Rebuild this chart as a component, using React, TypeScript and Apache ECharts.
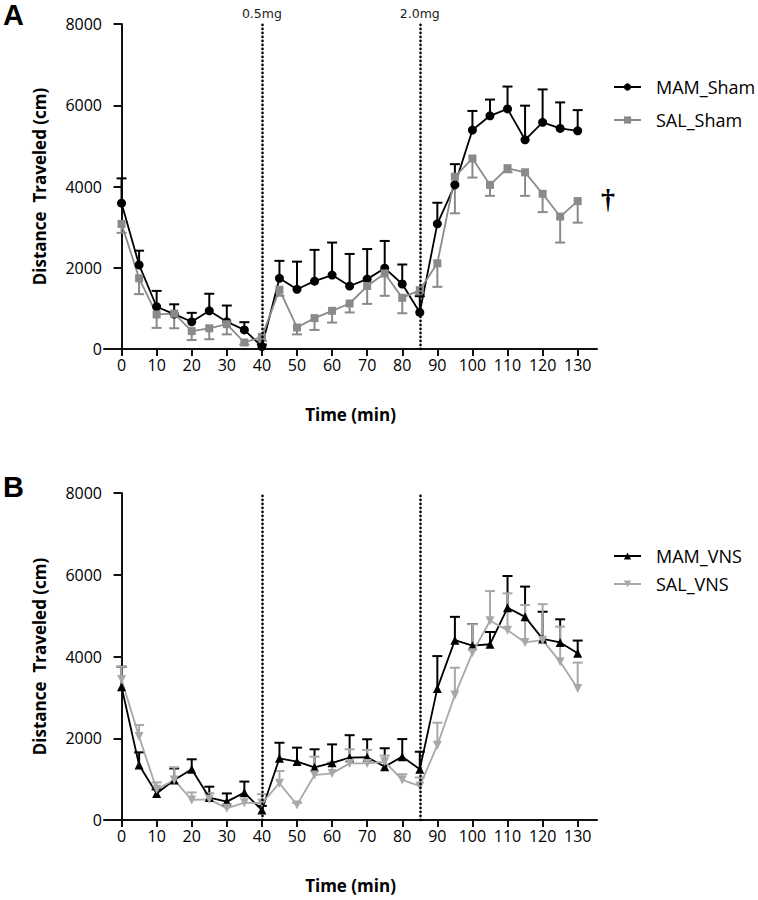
import React, { useEffect, useRef } from "react";
import * as echarts from "echarts";

const times = [0, 5, 10, 15, 20, 25, 30, 35, 40, 45, 50, 55, 60, 65, 70, 75, 80, 85, 90, 95, 100, 105, 110, 115, 120, 125, 130];
const xTicks = [0, 10, 20, 30, 40, 50, 60, 70, 80, 90, 100, 110, 120, 130];
const doseTimes = [40, 85];
const doseLabels = ["0.5mg", "2.0mg"];

const mamShamMean = [3590, 2070, 1040, 860, 670, 940, 670, 470, 60, 1740, 1470, 1670, 1820, 1550, 1720, 1990, 1600, 900, 3080, 4040, 5390, 5740, 5910, 5150, 5580, 5430, 5370];
const mamShamSE = [610, 350, 390, 240, 220, 420, 400, 190, 50, 430, 680, 770, 800, 790, 740, 670, 480, 400, 520, 510, 470, 400, 550, 840, 810, 640, 510];
const salShamMean = [3080, 1740, 850, 870, 440, 510, 610, 160, 300, 1460, 530, 760, 940, 1120, 1550, 1860, 1260, 1450, 2110, 4240, 4690, 4040, 4450, 4350, 3820, 3260, 3640];
const salShamSE = [220, 390, 330, 360, 220, 270, 250, 50, 100, 150, 170, 290, 290, 220, 440, 550, 380, 100, 580, 900, 470, 270, 100, 580, 450, 640, 530];

const mamVnsMean = [3260, 1345, 650, 980, 1240, 550, 450, 670, 245, 1510, 1430, 1290, 1400, 1525, 1535, 1305, 1550, 1240, 3220, 4400, 4265, 4300, 5190, 4970, 4430, 4345, 4080];
const mamVnsSE = [490, 310, 100, 280, 245, 265, 200, 270, 100, 380, 340, 440, 450, 550, 440, 450, 430, 430, 790, 570, 530, 300, 780, 740, 665, 565, 310];
const salVnsMean = [3440, 2040, 750, 980, 490, 505, 285, 425, 410, 900, 370, 1100, 1140, 1385, 1385, 1425, 980, 830, 1830, 3060, 4090, 4875, 4645, 4345, 4400, 3870, 3220];
const salVnsSE = [310, 285, 170, 310, 185, 150, 100, 150, 220, 300, 50, 450, 270, 345, 330, 150, 140, 210, 550, 665, 700, 725, 900, 915, 880, 860, 630];

const yTickMax = 8000;
const yTickStep = 2000;

const FONT = "Open Sans";
const BLACK = "#000000";
const GRAY_A = "#8a8a8a";
const GRAY_B = "#a8a8a8";
const INV_TRI = "path://M0,0 L10,0 L5,9 Z";

function pts(means: number[]) {
  return times.map((t, i) => [t, means[i]]);
}
function errPts(means: number[], se: number[]) {
  return times.map((t, i) => [t, means[i], se[i]]);
}

function errSeries(name: string, idx: number, means: number[], se: number[], color: string, dir: number) {
  return {
    name,
    type: "custom",
    xAxisIndex: idx,
    yAxisIndex: idx,
    z: 1,
    silent: true,
    encode: { x: 0, y: 1 },
    data: errPts(means, se),
    renderItem: (params: any, api: any) => {
      const x = api.value(0);
      const m = api.value(1);
      const e = api.value(2);
      const p0 = api.coord([x, m]);
      const p1 = api.coord([x, m + dir * e]);
      return {
        type: "group",
        children: [
          { type: "line", shape: { x1: p0[0], y1: p0[1], x2: p1[0], y2: p1[1] }, style: { stroke: color, lineWidth: 2 } },
          { type: "line", shape: { x1: p1[0] - 5, y1: p1[1], x2: p1[0] + 5, y2: p1[1] }, style: { stroke: color, lineWidth: 2 } },
        ],
      };
    },
  };
}

function lineSeries(name: string, idx: number, means: number[], color: string, symbol: string, size: number, extra: any = {}) {
  return {
    name,
    type: "line",
    xAxisIndex: idx,
    yAxisIndex: idx,
    z: 3,
    data: pts(means),
    symbol,
    symbolSize: size,
    color,
    itemStyle: { color },
    lineStyle: { color, width: 1.8 },
    ...extra,
  };
}

function markLines(withLabels: boolean) {
  return {
    silent: true,
    symbol: ["none", "none"],
    lineStyle: { color: BLACK, width: 2.6, type: [0.1, 3.9], cap: "round" },
    label: withLabels
      ? { show: true, position: "end", distance: 4, color: "#222", fontFamily: "DejaVu Sans", fontSize: 12.5, formatter: (p: any) => p.name }
      : { show: false },
    data: doseTimes.map((t, i) => ({ xAxis: t, name: doseLabels[i] })),
  };
}

function xAxis(idx: number) {
  return {
    type: "value",
    gridIndex: idx,
    min: -5,
    max: 135.5,
    splitLine: { show: false },
    axisLine: { show: true, onZero: false, lineStyle: { color: "#111", width: 2 } },
    axisTick: { show: true, customValues: xTicks, length: 7, lineStyle: { color: "#111", width: 2 } },
    axisLabel: { show: true, customValues: xTicks, margin: 8, fontFamily: FONT, fontSize: 16, color: BLACK },
    name: "Time (min)",
    nameLocation: "middle",
    nameGap: 57,
    nameTextStyle: { fontFamily: FONT, fontSize: 17, fontWeight: "bold", color: BLACK },
  };
}

function yAxis(idx: number) {
  return {
    type: "value",
    gridIndex: idx,
    min: 0,
    max: yTickMax,
    interval: yTickStep,
    splitLine: { show: false },
    axisLine: { show: true, lineStyle: { color: "#111", width: 2 } },
    axisTick: { show: true, length: 8, lineStyle: { color: "#111", width: 2 } },
    axisLabel: { margin: 2, fontFamily: FONT, fontSize: 16, color: BLACK, formatter: (v: number) => String(v) },
    name: "Distance  Traveled (cm)",
    nameLocation: "middle",
    nameGap: 56,
    nameTextStyle: { fontFamily: FONT, fontSize: 17, fontWeight: "bold", color: BLACK },
  };
}

function legendItem(name: string, top: number) {
  return {
    data: [name],
    left: 608,
    top,
    itemWidth: 27,
    itemHeight: 9,
    textStyle: { fontFamily: FONT, fontSize: 18, color: BLACK, padding: [0, 0, 0, 10] },
    selectedMode: false,
  };
}

export default function App() {
  const ref = useRef<HTMLDivElement>(null);
  useEffect(() => {
    document.body.style.margin = "0";
    const chart = echarts.init(ref.current!, null, { renderer: "svg" });
    chart.setOption({
      animation: false,
      backgroundColor: "#ffffff",
      grid: [
        { left: 104, top: 24, width: 493, height: 325 },
        { left: 104, top: 493, width: 493, height: 327 },
      ],
      xAxis: [xAxis(0), xAxis(1)],
      yAxis: [yAxis(0), yAxis(1)],
      legend: [
        legendItem("MAM_Sham", 73),
        legendItem("SAL_Sham", 106),
        legendItem("MAM_VNS", 542),
        legendItem("SAL_VNS", 570),
      ],
      graphic: [
        { type: "text", left: 3, top: 0, style: { text: "A", font: "bold 29px 'Liberation Sans'", fill: BLACK } },
        { type: "text", left: 3, top: 472, style: { text: "B", font: "bold 29px 'Liberation Sans'", fill: BLACK } },
        { type: "text", left: 601, top: 184, style: { text: "\u2020", font: "bold 28px 'Liberation Serif'", fill: BLACK } },
      ],
      series: [
        errSeries("MAM_Sham_err", 0, mamShamMean, mamShamSE, BLACK, 1),
        errSeries("SAL_Sham_err", 0, salShamMean, salShamSE, GRAY_A, -1),
        lineSeries("MAM_Sham", 0, mamShamMean, BLACK, "circle", 9, { markLine: markLines(true) }),
        lineSeries("SAL_Sham", 0, salShamMean, GRAY_A, "rect", 8),
        errSeries("MAM_VNS_err", 1, mamVnsMean, mamVnsSE, BLACK, 1),
        errSeries("SAL_VNS_err", 1, salVnsMean, salVnsSE, GRAY_B, 1),
        lineSeries("MAM_VNS", 1, mamVnsMean, BLACK, "triangle", 9, { markLine: markLines(false) }),
        lineSeries("SAL_VNS", 1, salVnsMean, GRAY_B, INV_TRI, 9),
      ],
    });
    return () => chart.dispose();
  }, []);
  return <div ref={ref} style={{ width: 758, height: 900 }} />;
}
